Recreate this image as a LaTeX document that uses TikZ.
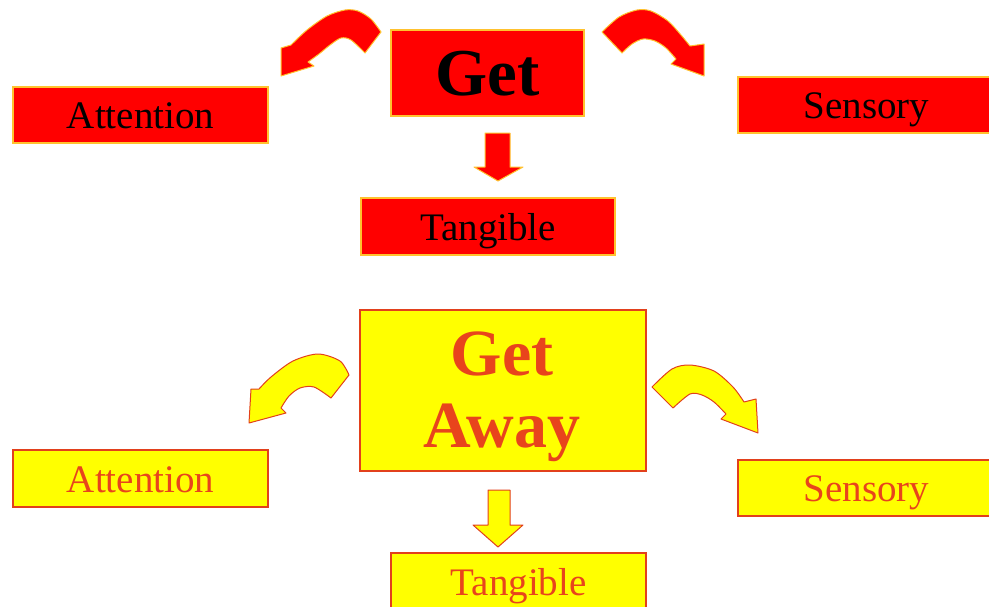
\documentclass[tikz,border=0pt]{standalone}
\usepackage{fontspec}
\setmainfont{Liberation Serif}
\definecolor{boxred}{HTML}{FF0000}
\definecolor{rededge}{HTML}{FFC22E}
\definecolor{boxyellow}{HTML}{FFFF00}
\definecolor{yellowedge}{HTML}{E2401C}
\definecolor{labelorange}{HTML}{E8441C}
\tikzset{
  redbox/.style={draw=rededge, fill=boxred, line width=1.2pt, inner sep=0pt, text=black},
  yellowbox/.style={draw=yellowedge, fill=boxyellow, line width=1.2pt, inner sep=0pt, text=labelorange},
  lbl/.style={font=\fontsize{39}{39}\selectfont, text height=27pt, text depth=0pt},
  bigword/.style={font=\bfseries\fontsize{67}{67}\selectfont},
  redarrow/.style={fill=boxred, draw=rededge, line width=1pt, line join=round},
  yellowarrow/.style={fill=boxyellow, draw=yellowedge, line width=1pt, line join=round},
}
\begin{document}
\begin{tikzpicture}[x=1pt, y=-1pt]
\useasboundingbox (0,0) rectangle (989,606);
\clip (0,0) rectangle (989,606);

% ---- "Get" group (red) ----
\node[redbox, bigword, text height=44pt, text depth=0pt,
      minimum width=193pt, minimum height=86pt] (getR) at (487.5,73) {Get};
\node[redbox, lbl, minimum width=255pt, minimum height=56pt] (attR) at (140.5,115) {Attention};
\node[redbox, lbl, minimum width=257pt, minimum height=56pt] (senR) at (866.5,105) {Sensory};
\node[redbox, lbl, minimum width=254pt, minimum height=57pt] (tanR) at (488,226.5) {Tangible};

% curved arrow towards Attention
\filldraw[redarrow]
  plot[smooth] coordinates {(381,32) (371,19) (358,11) (345,10) (327,16) (307,30) (291,45)}
  -- (281,48) -- (281,76) -- (314,66)
  -- plot[smooth] coordinates {(308,62) (319,54) (330,45) (341,38) (351,40) (365,53)}
  -- cycle;
% curved arrow towards Sensory
\filldraw[redarrow]
  plot[smooth] coordinates {(602,32) (619,17) (637,10) (651,11) (668,21) (681,35) (690,46)}
  -- (704,44) -- (704,76) -- (671,64)
  -- plot[smooth] coordinates {(676,59) (666,48) (655,41) (643,39) (632,44) (622,53)}
  -- cycle;
% straight arrow towards Tangible
\filldraw[redarrow] (485,133) -- (510,133) -- (510,167) -- (523,167) -- (498,181)
  -- (474,167) -- (485,167) -- cycle;

% ---- "Get Away" group (yellow) ----
\node[yellowbox, minimum width=286pt, minimum height=161pt] (gaY) at (503,390.5) {};
\node[bigword, font=\bfseries\fontsize{66}{66}\selectfont, text=labelorange,
      inner sep=0pt, anchor=base] (gaY1) at (502,375) {Get};
\node[bigword, font=\bfseries\fontsize{66}{66}\selectfont, text=labelorange,
      inner sep=0pt, anchor=base] (gaY2) at (502,447) {Away};
\node[yellowbox, lbl, minimum width=255pt, minimum height=57pt] (attY) at (140.5,478.5) {Attention};
\node[yellowbox, lbl, minimum width=257pt, minimum height=56pt] (senY) at (866.5,488) {Sensory};
\node[yellowbox, lbl, minimum width=255pt, minimum height=57pt] (tanY) at (518.5,581.5) {Tangible};

% curved arrow towards Attention
\filldraw[yellowarrow]
  plot[smooth] coordinates {(349,375) (340,361) (318,354) (293,361) (271,377) (259,389)}
  -- (251,389) -- (249,423) -- (286,413)
  -- plot[smooth] coordinates {(281,408) (289,396) (300,388) (314,387) (331,398)}
  -- cycle;
% curved arrow towards Sensory
\filldraw[yellowarrow]
  plot[smooth] coordinates {(652,387) (672,369) (690,365) (714,371) (733,387) (744,402)}
  -- (756,399) -- (758,433) -- (721,419)
  -- plot[smooth] coordinates {(726,414) (714,402) (702,395) (690,394) (673,408)}
  -- cycle;
% straight arrow towards Tangible
\filldraw[yellowarrow] (488,490) -- (510,490) -- (510,525) -- (523,525) -- (498,547)
  -- (473,525) -- (488,525) -- cycle;
\end{tikzpicture}
\end{document}
